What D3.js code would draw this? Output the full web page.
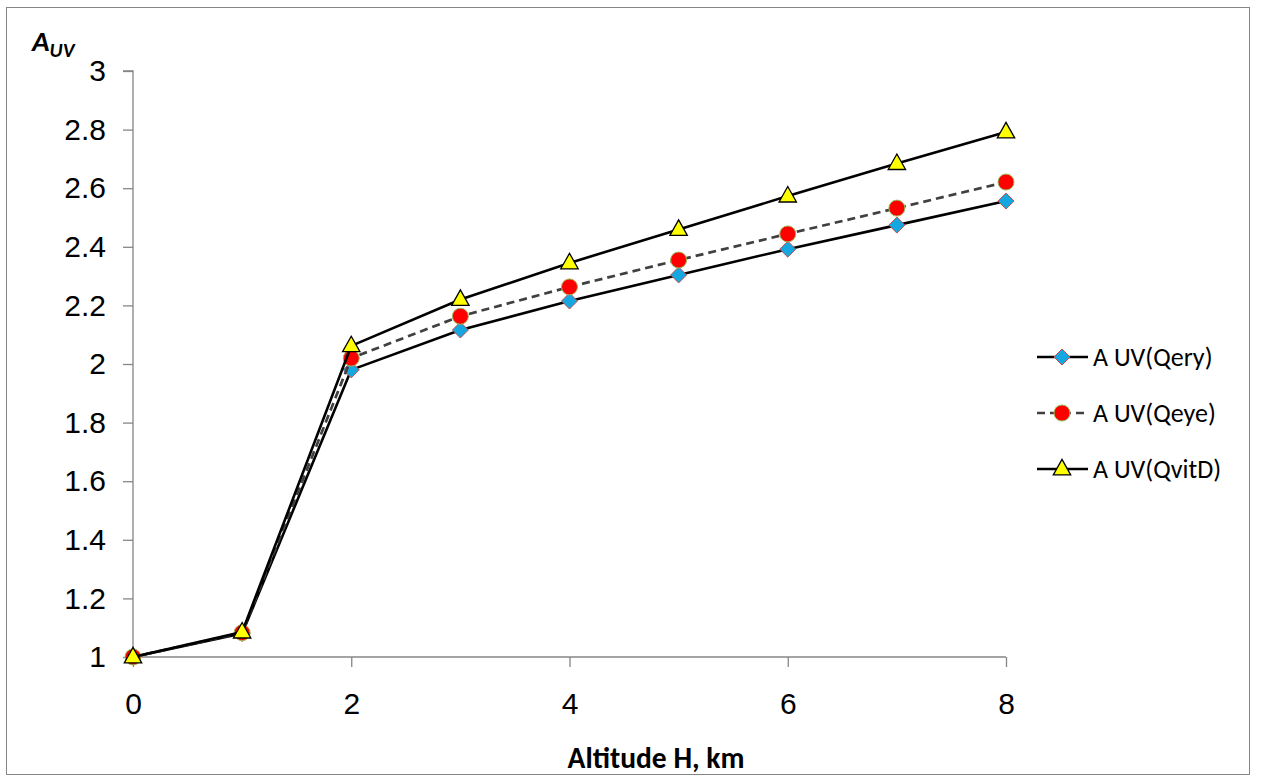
<!DOCTYPE html>
<html>
<head>
<meta charset="utf-8">
<script src="https://cdn.jsdelivr.net/npm/d3@7"></script>
<style>
  body { margin: 0; background: #fff; }
  svg { display: block; font-family: Carlito, Lato, "Open Sans", sans-serif; }
</style>
</head>
<body>
<svg id="chart" width="1261" height="783"></svg>
<script>
// Altitude (km) and UV amplification factors
const altitudes = [0, 1, 2, 3, 4, 5, 6, 7, 8];
const qEry  = [1, 1.08, 1.98, 2.116, 2.215, 2.304, 2.392, 2.474, 2.556];
const qEye  = [1, 1.083, 2.02, 2.163, 2.263, 2.355, 2.444, 2.532, 2.621];
const qVitD = [1, 1.085, 2.062, 2.22, 2.345, 2.459, 2.573, 2.684, 2.792];
const seriesNames = ["A UV(Qery)", "A UV(Qeye)", "A UV(QvitD)"];
const xTicks = [0, 2, 4, 6, 8];
const yTicks = [1, 1.2, 1.4, 1.6, 1.8, 2, 2.2, 2.4, 2.6, 2.8, 3];

const svg = d3.select("#chart");
const axisColor = "#868686";

// outer frame
svg.append("rect").attr("x", 6.5).attr("y", 7.5).attr("width", 1243).attr("height", 767)
  .attr("fill", "#fff").attr("stroke", axisColor).attr("stroke-width", 1);

const x = d3.scaleLinear().domain([0, 8]).range([133, 1006]);
const y = d3.scaleLinear().domain([1, 3]).range([657, 71]);

// y axis
const yAxis = svg.append("g").attr("transform", "translate(133,0)")
  .call(d3.axisLeft(y).tickValues(yTicks).tickSize(10).tickPadding(17)
    .tickFormat(d => d3.format("~g")(d)));
yAxis.selectAll("line,path").attr("stroke", axisColor).attr("stroke-width", 1.3);
yAxis.select("path").attr("d", `M-10,${y(3)}H0V${y(1)}`);
yAxis.selectAll("text").attr("font-size", 30).attr("fill", "#000").attr("dy", "0.32em");

// x axis
const xAxis = svg.append("g").attr("transform", `translate(0,${y(1)})`)
  .call(d3.axisBottom(x).tickValues(xTicks).tickSize(10).tickPadding(26).tickFormat(d3.format("d")));
xAxis.selectAll("line,path").attr("stroke", axisColor).attr("stroke-width", 1.3);
xAxis.select("path").attr("d", `M${x(0)},0H${x(8)}`);
xAxis.selectAll("text").attr("font-size", 30).attr("fill", "#000");

// axis titles
svg.append("text").attr("x", 656).attr("y", 768).attr("text-anchor", "middle")
  .attr("font-size", 29.5).attr("font-weight", "bold").text("Altitude H, km");
const yt = svg.append("text").attr("x", 32).attr("y", 51)
  .attr("font-size", 29).attr("font-weight", "bold").attr("font-style", "italic");
yt.append("tspan").text("A");
yt.append("tspan").attr("font-size", 20).attr("dy", 6).text("UV");

const data = [qEry, qEye, qVitD];
const styles = [
  { stroke: "#000", dash: null, width: 2.6 },
  { stroke: "#404040", dash: "8,5", width: 2.7 },
  { stroke: "#000", dash: null, width: 2.6 }
];

function marker(g, i, cx, cy) {
  if (i === 0) {
    const s = 8;
    g.append("path").attr("d", `M${cx},${cy - s}L${cx + s},${cy}L${cx},${cy + s}L${cx - s},${cy}Z`)
      .attr("fill", "#16A6E0").attr("stroke", "#C0504D").attr("stroke-width", 1);
  } else if (i === 1) {
    g.append("circle").attr("cx", cx).attr("cy", cy).attr("r", 8)
      .attr("fill", "#FF0000").attr("stroke", "#9BBB59").attr("stroke-width", 1);
  } else {
    const w = 8.7, h = 15.5;
    g.append("path").attr("d", `M${cx},${cy - h * 0.62}L${cx + w},${cy + h * 0.38}L${cx - w},${cy + h * 0.38}Z`)
      .attr("fill", "#FFFF00").attr("stroke", "#000").attr("stroke-width", 1.3);
  }
}

const line = d3.line().x((d, j) => x(altitudes[j])).y(d => y(d));
data.forEach((vals, i) => {
  const g = svg.append("g");
  g.append("path").datum(vals).attr("d", line).attr("fill", "none")
    .attr("stroke", styles[i].stroke).attr("stroke-width", styles[i].width)
    .attr("stroke-dasharray", styles[i].dash).attr("stroke-linejoin", "round");
  vals.forEach((v, j) => marker(g, i, x(altitudes[j]), y(v)));
});

// legend
const legendY = [357, 413, 469];
seriesNames.forEach((name, i) => {
  const g = svg.append("g");
  g.append("line").attr("x1", 1037).attr("x2", 1088).attr("y1", legendY[i]).attr("y2", legendY[i])
    .attr("stroke", styles[i].stroke).attr("stroke-width", styles[i].width)
    .attr("stroke-dasharray", styles[i].dash);
  marker(g, i, 1062, legendY[i]);
  g.append("text").attr("x", 1093).attr("y", legendY[i]).attr("dy", "0.33em")
    .attr("font-size", 26).text(name);
});
</script>
</body>
</html>
